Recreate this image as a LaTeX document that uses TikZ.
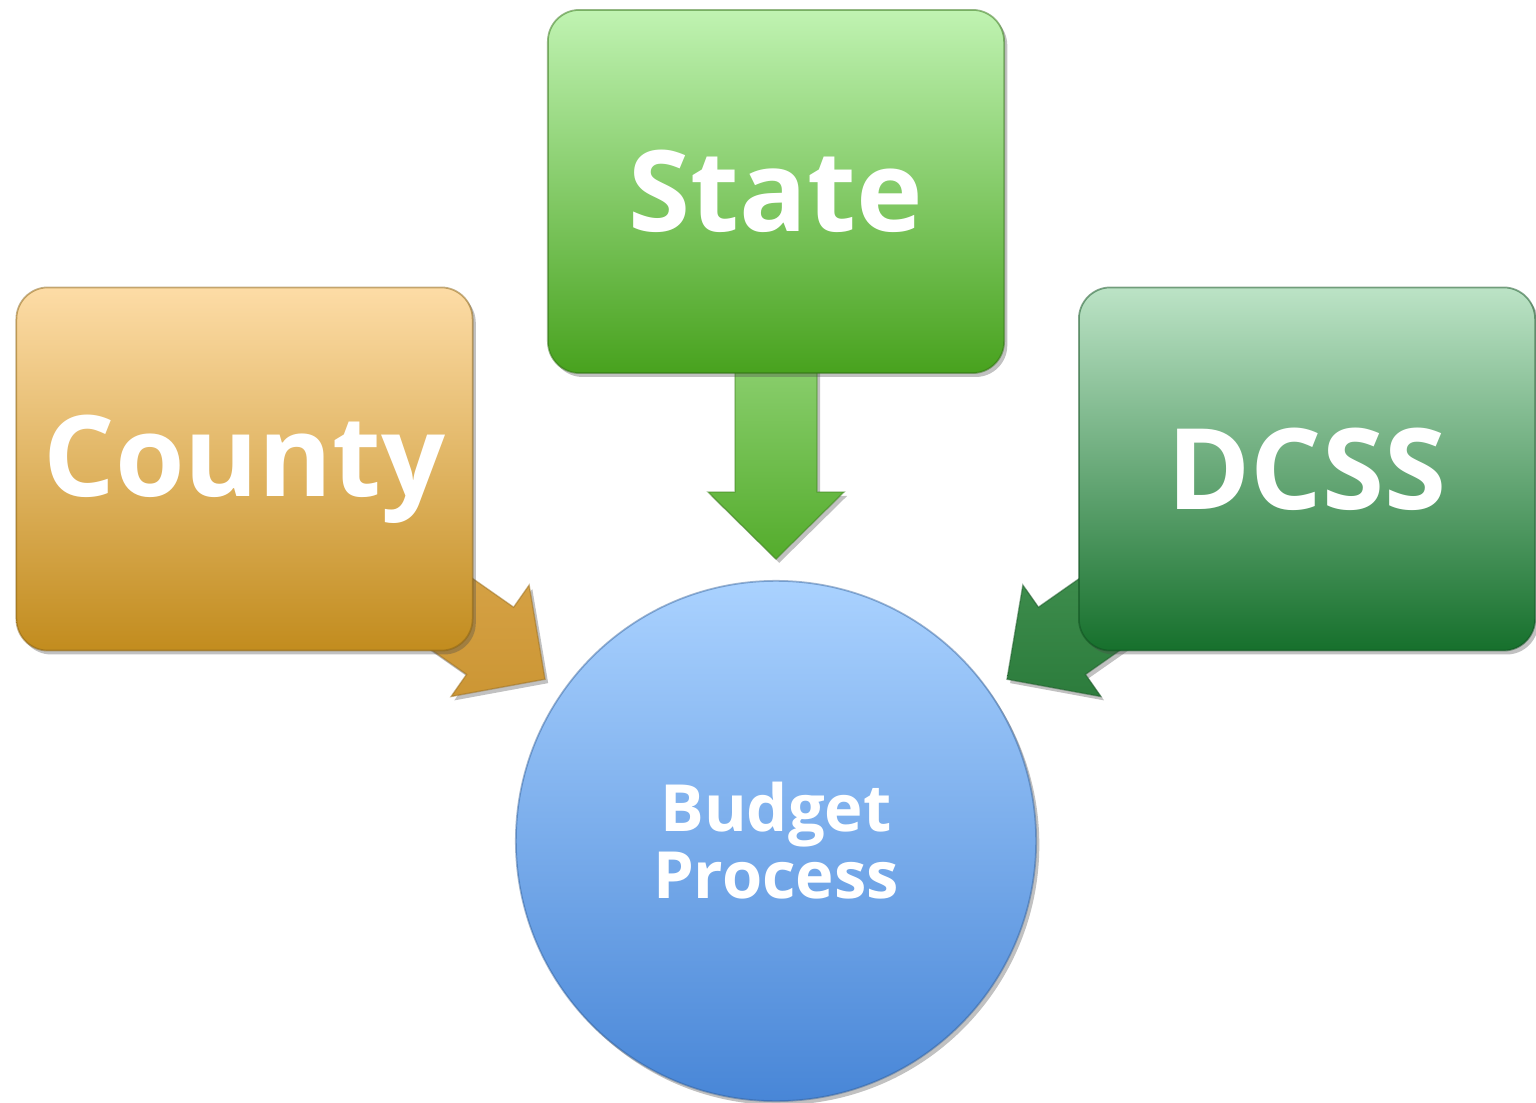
\documentclass[tikz,border=0pt]{standalone}
\usepackage{fontspec}
\setmainfont{Open Sans}
\usetikzlibrary{calc,shadows}

\definecolor{statetop}{RGB}{192,243,178}
\definecolor{statebot}{RGB}{72,162,30}
\definecolor{countytop}{RGB}{253,220,166}
\definecolor{countybot}{RGB}{194,140,30}
\definecolor{dcsstop}{RGB}{188,227,198}
\definecolor{dcssbot}{RGB}{22,112,44}
\definecolor{bptop}{RGB}{170,210,255}
\definecolor{bpbot}{RGB}{72,134,215}
\definecolor{sarrowlt}{RGB}{150,214,124}
\definecolor{sarrowdk}{RGB}{84,172,44}
\definecolor{carrowlt}{RGB}{222,172,84}
\definecolor{carrowdk}{RGB}{204,150,52}
\definecolor{darrowlt}{RGB}{78,156,92}
\definecolor{darrowdk}{RGB}{44,124,60}

\tikzset{
  softshadow/.style={drop shadow={shadow xshift=0.9pt, shadow yshift=-1.1pt, opacity=0.35, fill=black!70}},
  sourcebox/.style={rounded corners=9pt, minimum width=4.56cm, minimum height=3.63cm,
    inner sep=0pt, text=white, font=\bfseries\fontsize{32}{36}\selectfont,
    line width=0.5pt, softshadow},
  hubcircle/.style={circle, minimum size=5.2cm, inner sep=0pt, text=white,
    font=\bfseries\fontsize{18.5}{20}\selectfont, align=center,
    draw=bpbot!70!black, draw opacity=0.45, line width=0.5pt, softshadow},
  blockarrow/.style={draw opacity=0.5, line width=0.4pt, softshadow}
}

% block arrow pointing at the hub: #1 direction angle, #2 shaft length,
% #3 light colour, #4 dark colour
\newcommand\hubarrow[4]{%
  \begin{scope}[shift={(bp.center)}, rotate=#1]
    \path[blockarrow, top color=#3, bottom color=#4, draw=#4!75!black]
      (282,0) -- (349,68) -- (349,41) -- (#2,41) -- (#2,-41)
      -- (349,-41) -- (349,-68) -- cycle;
  \end{scope}}

\begin{document}
\begin{tikzpicture}[x=0.01cm, y=0.01cm]
  \useasboundingbox (0,0) rectangle (1536,1102);

  % central hub
  \node[hubcircle, top color=bptop, bottom color=bpbot] (bp) at (776,261)
    {Budget\\[-1pt]Process};

  % arrows feeding the hub
  \hubarrow{90}{520}{sarrowlt}{sarrowdk}
  \hubarrow{145}{600}{carrowlt}{carrowdk}
  \hubarrow{35}{600}{darrowlt}{darrowdk}

  % source boxes
  \node[sourcebox, top color=statetop, bottom color=statebot,
        draw=statebot!70!black, draw opacity=0.5] (state) at (776,910.5) {State};
  \node[sourcebox, top color=countytop, bottom color=countybot,
        draw=countybot!70!black, draw opacity=0.5] (county) at (244.5,633) {County};
  \node[sourcebox, top color=dcsstop, bottom color=dcssbot,
        draw=dcssbot!70!black, draw opacity=0.5] (dcss) at (1307,633) {DCSS};
\end{tikzpicture}
\end{document}
